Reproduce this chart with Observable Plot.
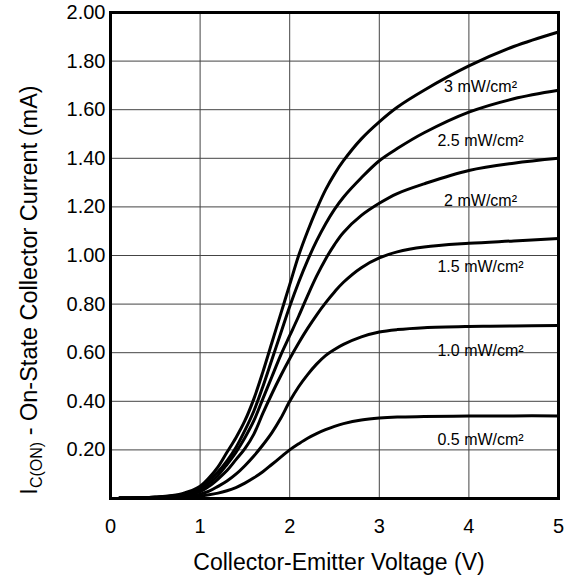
<!DOCTYPE html>
<html>
<head>
<meta charset="utf-8">
<script src="https://cdn.jsdelivr.net/npm/d3@7"></script>
<script src="https://cdn.jsdelivr.net/npm/@observablehq/plot@0.6"></script>
<style>
  html, body { margin: 0; padding: 0; background: #fff; }
  #chart svg { display: block; }
</style>
</head>
<body>
<div id="chart"></div>
<script>
// Collector-emitter voltage (V) sample points shared by all curves
const voltage = [0.1,0.5,0.8,1.0,1.1,1.2,1.3,1.4,1.5,1.6,1.7,1.8,1.9,2.0,2.1,2.2,2.3,2.4,2.5,2.6,2.8,3.0,3.2,3.5,4.0,4.5,5.0];

// On-state collector current (mA) per irradiance
const seriesNames = ["3 mW/cm²", "2.5 mW/cm²", "2 mW/cm²", "1.5 mW/cm²", "1.0 mW/cm²", "0.5 mW/cm²"];
const i3_0 = [0.002,0.006,0.02,0.05,0.085,0.13,0.19,0.25,0.32,0.41,0.52,0.64,0.76,0.88,1.0,1.10,1.19,1.27,1.335,1.39,1.48,1.55,1.61,1.68,1.78,1.86,1.92];
const i2_5 = [0.002,0.005,0.017,0.042,0.075,0.11,0.155,0.21,0.28,0.36,0.46,0.57,0.68,0.79,0.89,0.98,1.06,1.13,1.19,1.24,1.32,1.39,1.44,1.505,1.59,1.645,1.68];
const i2_0 = [0.002,0.005,0.015,0.035,0.062,0.095,0.14,0.19,0.25,0.32,0.41,0.50,0.59,0.67,0.75,0.835,0.915,0.985,1.045,1.095,1.165,1.215,1.255,1.295,1.35,1.38,1.40];
const i1_5 = [0.002,0.004,0.012,0.028,0.05,0.08,0.115,0.16,0.205,0.265,0.35,0.43,0.505,0.575,0.64,0.70,0.755,0.805,0.85,0.89,0.95,0.99,1.015,1.035,1.05,1.06,1.07];
const i1_0 = [0.001,0.003,0.008,0.018,0.03,0.05,0.072,0.10,0.135,0.175,0.22,0.27,0.33,0.40,0.46,0.51,0.553,0.588,0.613,0.634,0.665,0.685,0.695,0.703,0.708,0.71,0.712];
const i0_5 = [0.001,0.002,0.005,0.01,0.015,0.022,0.032,0.045,0.063,0.085,0.11,0.14,0.17,0.2,0.225,0.248,0.267,0.283,0.297,0.308,0.323,0.331,0.335,0.337,0.339,0.34,0.34];

// Curve labels (data coordinates)
const labelX = [4.13, 4.13, 4.13, 4.13, 4.13, 4.13];
const labelY = [1.695, 1.473, 1.226, 0.955, 0.609, 0.243];

// Axis ticks
const xTicks = [0, 1, 2, 3, 4, 5];
const yTicks = [0.2, 0.4, 0.6, 0.8, 1.0, 1.2, 1.4, 1.6, 1.8, 2.0];

const allSeries = [i3_0, i2_5, i2_0, i1_5, i1_0, i0_5];
const rows = [];
allSeries.forEach((arr, k) => arr.forEach((v, j) => rows.push({s: seriesNames[k], x: voltage[j], y: v})));
const labels = seriesNames.map((t, k) => ({t, x: labelX[k], y: labelY[k]}));

const W = 566, H = 577;
const FONT = "'Liberation Sans', Arial, sans-serif";
const chart = Plot.plot({
  width: W,
  height: H,
  marginLeft: 110,
  marginRight: 8,
  marginTop: 12,
  marginBottom: 79,
  style: {fontFamily: FONT, background: "#fff", color: "#000"},
  x: {domain: [0, 5]},
  y: {domain: [0, 2]},
  marks: [
    Plot.gridX(xTicks.slice(1, -1), {stroke: "#444", strokeOpacity: 1, strokeWidth: 1}),
    Plot.gridY(yTicks.slice(0, -1), {stroke: "#444", strokeOpacity: 1, strokeWidth: 1}),
    Plot.axisX(xTicks, {tickSize: 0, tickPadding: 20, fontSize: 20, label: null}),
    Plot.axisY(yTicks, {tickSize: 0, tickPadding: 5, fontSize: 20, tickFormat: d3.format(".2f"), label: null}),
    Plot.line(rows, {x: "x", y: "y", z: "s", stroke: "#000", strokeWidth: 3, curve: "catmull-rom"}),
    Plot.text(labels, {x: "x", y: "y", text: "t", fontSize: 16, fill: "#000", textAnchor: "middle"}),
    Plot.frame({stroke: "#000", strokeWidth: 3})
  ]
});

const svg = d3.select(chart);
svg.append("text")
  .attr("x", 339)
  .attr("y", 570)
  .attr("text-anchor", "middle")
  .attr("font-size", 23)
  .attr("font-family", FONT)
  .attr("fill", "#000")
  .text("Collector-Emitter Voltage (V)");

const yt = svg.append("text")
  .attr("transform", "translate(37,290) rotate(-90)")
  .attr("text-anchor", "middle")
  .attr("font-size", 23.5)
  .attr("font-family", FONT)
  .attr("fill", "#000");
yt.append("tspan").text("I");
yt.append("tspan").attr("font-size", 16).attr("dy", 5).text("C(ON)");
yt.append("tspan").attr("dy", -5).text(" - On-State Collector Current (mA)");

document.getElementById("chart").appendChild(chart);
</script>
</body>
</html>
